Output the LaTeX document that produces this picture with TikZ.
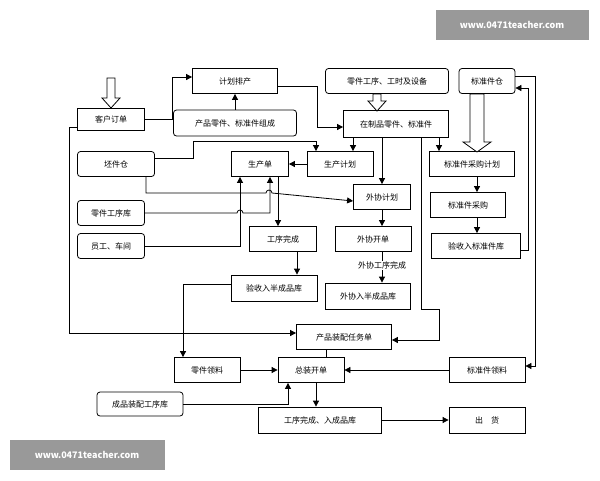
\documentclass[tikz,border=0pt]{standalone}
\usepackage{fontspec}
\setmainfont{Noto Sans CJK SC}
\usetikzlibrary{arrows.meta}
\tikzset{
  box/.style={draw, thick, fill=white, inner sep=1pt, font=\fontsize{8}{9}\selectfont},
  rbox/.style={box, rounded corners=3pt},
  arr/.style={thick, -{Triangle[length=6pt,width=6pt]}},
  ln/.style={thick},
  wmark/.style={fill=black!40, text=white, inner sep=0pt, font=\fontsize{9}{10}\selectfont\bfseries}
}
% hollow arrow: x, top y, bottom y, half shaft, half head
\newcommand\fatarrow[5]{%
  \draw[thick,fill=white] ({#1-#4},#2) -- ({#1+#4},#2) -- ({#1+#4},{#3-10}) -- ({#1+#5},{#3-10})
    -- (#1,#3) -- ({#1-#5},{#3-10}) -- ({#1-#4},{#3-10}) -- cycle;}
\begin{document}
\begin{tikzpicture}[x=1pt,y=-1pt]
        \useasboundingbox (0,0) rectangle (600,480);

        % Watermarks
        \node[wmark, minimum width=153, minimum height=30] at (512,25) {www.0471teacher.com};
        \node[wmark, minimum width=155, minimum height=30] at (87,455) {www.0471teacher.com};

        % Boxes
        \node[box,  minimum width=67, minimum height=22] (order)   at (111,119) {客户订单};
        \node[box,  minimum width=85, minimum height=25] (plan)    at (235,81)  {计划排产};
        \node[rbox, minimum width=123,minimum height=26] (bom)     at (235,123) {产品零件、标准件组成};
        \node[rbox, minimum width=123,minimum height=25] (route)   at (387,81)  {零件工序、工时及设备};
        \node[rbox, minimum width=56, minimum height=25] (stdwh)   at (487,81)  {标准件仓};
        \node[box,  minimum width=105,minimum height=27] (wip)     at (396,124) {在制品零件、标准件};
        \node[rbox, minimum width=77, minimum height=25] (blank)   at (116,164) {坯件仓};
        \node[box,  minimum width=57, minimum height=25] (prod)    at (260,164) {生产单};
        \node[box,  minimum width=66, minimum height=25] (pplan)   at (340,164) {生产计划};
        \node[box,  minimum width=85, minimum height=25] (buyplan) at (472,164) {标准件采购计划};
        \node[box,  minimum width=57, minimum height=25] (outplan) at (382,197) {外协计划};
        \node[box,  minimum width=75, minimum height=25] (buy)     at (468,205) {标准件采购};
        \node[rbox, minimum width=67, minimum height=25] (oplib)   at (111,213) {零件工序库};
        \node[rbox, minimum width=67, minimum height=25] (staff)   at (111,246) {员工、车间};
        \node[box,  minimum width=67, minimum height=25] (opdone)  at (283,239) {工序完成};
        \node[box,  minimum width=76, minimum height=25] (outord)  at (373,239) {外协开单};
        \node[box,  minimum width=89, minimum height=25] (stdin)   at (476,246) {验收入标准件库};
        \node[box,  minimum width=86, minimum height=26] (semiin)  at (274,288) {验收入半成品库};
        \node[box,  minimum width=85, minimum height=26] (outin)   at (368,296) {外协入半成品库};
        \node[box,  minimum width=95, minimum height=25] (task)    at (344,337) {产品装配任务单};
        \node[box,  minimum width=66, minimum height=25] (partpick)at (207,370) {零件领料};
        \node[box,  minimum width=66, minimum height=25] (asm)     at (311,370) {总装开单};
        \node[box,  minimum width=76, minimum height=25] (stdpick) at (487,370) {标准件领料};
        \node[rbox, minimum width=86, minimum height=24] (asmlib)  at (140,404) {成品装配工序库};
        \node[box,  minimum width=123,minimum height=26] (fin)     at (320,420) {工序完成、入成品库};
        \node[box,  minimum width=76, minimum height=26] (ship)    at (487,420) {出\quad 货};

        % Hollow arrows
        \fatarrow{111}{78}{108}{4}{9}
        \fatarrow{377}{94}{111}{4}{9}
        \fatarrow{477}{94}{152}{7}{14}

        % Connectors
        \draw[arr] (order.east) -- (172,119) |- ([yshift=4pt]plan.west);
        \draw[arr] (bom) -- (plan);
        \draw[arr] ([yshift=-5pt]plan.east) -- (317,86) |- ([yshift=-3pt]wip.west);
        \draw[arr] (wip.south -| 353,0) -- (pplan.north -| 353,0);
        \draw[arr] ([yshift=6pt]blank.east) -- (193,158) -- (193,141) -| (pplan.north -| 316,0);
        \draw[arr] (pplan) -- (prod);
        \draw[arr] (blank.south -| 146,0) -- (146,193) -- (266,193)
            arc[start angle=180,end angle=0,radius=3pt] -- ([yshift=-4pt]outplan.west);
        \draw[arr] (oplib.east) -- (237,213) arc[start angle=180,end angle=0,radius=3pt]
            -- (270,213) -- (prod.south -| 270,0);
        \draw[arr] (staff.east) -- (240,246) -- (prod.south -| 240,0);
        \draw[arr] (prod.south -| 278,0) -- (opdone.north -| 278,0);
        \draw[arr] (wip.south -| 382,0) -- (outplan.north -| 382,0);
        \draw[arr] (outplan.south -| 382,0) -- (outord.north -| 382,0);
        \draw[arr] (outord.south -| 382,0) -- (outin.north -| 382,0)
            node[pos=0.45, fill=white, inner sep=1pt, font=\fontsize{8}{9}\selectfont] {外协工序完成};
        \draw[arr] (opdone.south -| 297,0) -- (semiin.north -| 297,0);
        \draw[arr] ([yshift=4pt]semiin.west) -- (183,284) -- (partpick.north -| 183,0);
        \draw[arr] ([yshift=-8pt]order.west) -- (69,127) -- (69,333) -- ([yshift=4pt]task.west);
        \draw[arr] (wip.south -| 421,0) -- (421,309) -- (439,309) -- (439,340) -- ([yshift=-3pt]task.east);
        \draw[arr] (wip.south -| 439,0) -- (buyplan.north -| 439,0);
        \draw[arr] (buyplan.south -| 477,0) -- (buy.north -| 477,0);
        \draw[arr] (buy.south -| 477,0) -- (stdin.north -| 477,0);
        \draw[arr] ([yshift=-4pt]stdin.east) -- (528,250) -- (528,88) -- ([yshift=-7pt]stdwh.east);
        \draw[arr] ([yshift=5pt]stdwh.east) -- (535,76) -- (535,366) -- ([yshift=4pt]stdpick.east);
        \draw[ln] (task.south -| 326,0) -- (asm.north -| 326,0);
        \draw[arr] (partpick) -- (asm);
        \draw[arr] (stdpick) -- (asm);
        \draw[arr] (asmlib.east) -- (288,404) -- (asm.south -| 288,0);
        \draw[arr] (asm.south -| 316,0) -- (fin.north -| 316,0);
        \draw[arr] (fin) -- (ship);
\end{tikzpicture}
\end{document}
